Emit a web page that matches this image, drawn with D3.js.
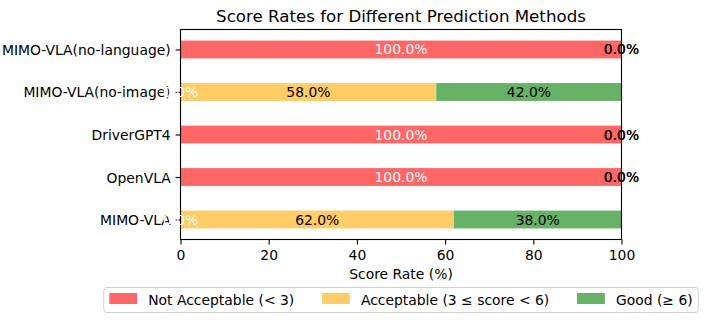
<!DOCTYPE html>
<html>
<head>
<meta charset="utf-8">
<script src="https://cdn.jsdelivr.net/npm/d3@7"></script>
<style>
  html, body { margin: 0; padding: 0; background: #fff; }
  svg { display: block; font-family: "DejaVu Sans", sans-serif; }
</style>
</head>
<body>
<div id="chart"></div>
<script>
// ---- Data (bottom to top, as in the original) ----
const categories = ["MIMO-VLA", "OpenVLA", "DriverGPT4", "MIMO-VLA(no-image)", "MIMO-VLA(no-language)"];
const notAcceptable = [0, 100, 100, 0, 100];
const acceptable = [62, 0, 0, 58, 0];
const good = [38, 0, 0, 42, 0];
const seriesNames = ["Not Acceptable (< 3)", "Acceptable (3 \u2264 score < 6)", "Good (\u2265 6)"];
const seriesColors = ["#ff6666", "#ffcc66", "#66b266"];
const labelColors = ["#ffffff", "#000000", "#000000"];
const xTicks = [0, 20, 40, 60, 80, 100];
const titleText = "Score Rates for Different Prediction Methods";
const xLabelText = "Score Rate (%)";

(function () {
const W = 706, H = 324;
const pL = 180.5, pR = 621.5, pT = 29.5, pB = 239.5;
const fs = 13.9;

const svg = d3.select("#chart").append("svg").attr("width", W).attr("height", H);

const x = d3.scaleLinear().domain([0, 100]).range([pL, pR]);
const y = d3.scaleLinear().domain([-0.47, categories.length - 1 + 0.47]).range([pB, pT]);
const barH = (y(0) - y(0.42));

const seriesVals = [notAcceptable, acceptable, good];
const stacked = categories.map((c, i) => {
  let acc = 0;
  return seriesVals.map((s, k) => {
    const seg = { cat: i, k, x0: acc, x1: acc + s[i], v: s[i] };
    acc += s[i];
    return seg;
  });
});

// bars
const gBars = svg.append("g");
stacked.forEach(row => {
  row.forEach(seg => {
    gBars.append("rect")
      .attr("x", x(seg.x0))
      .attr("y", y(seg.cat) - barH / 2)
      .attr("width", Math.max(0, x(seg.x1) - x(seg.x0)))
      .attr("height", barH)
      .attr("fill", seriesColors[seg.k]);
  });
});

// spines
const gAx = svg.append("g").attr("stroke", "#000").attr("stroke-width", 1.1).attr("fill", "none");
gAx.append("rect").attr("x", pL).attr("y", pT).attr("width", pR - pL).attr("height", pB - pT);

// x axis ticks
const xAxis = d3.axisBottom(x).tickValues(xTicks).tickSize(4.9).tickPadding(4.9).tickFormat(d3.format("d"));
const gx = svg.append("g").attr("transform", `translate(0,${pB})`).call(xAxis);
gx.select(".domain").remove();
gx.selectAll(".tick line").attr("stroke", "#000").attr("stroke-width", 1.1);
gx.selectAll(".tick text").attr("font-size", fs).attr("font-family", "DejaVu Sans").attr("fill", "#000")
  .attr("dy", null).attr("y", 20.5).attr("dominant-baseline", "alphabetic");

// y axis ticks
const yAxis = d3.axisLeft(y).tickValues(d3.range(categories.length)).tickSize(4.9).tickPadding(4.9)
  .tickFormat(i => categories[i]);
const gy = svg.append("g").attr("transform", `translate(${pL},0)`).call(yAxis);
gy.select(".domain").remove();
gy.selectAll(".tick line").attr("stroke", "#000").attr("stroke-width", 1.1);
gy.selectAll(".tick text").attr("font-size", fs).attr("font-family", "DejaVu Sans").attr("fill", "#000")
  .attr("dy", null).attr("y", 5).attr("dominant-baseline", "alphabetic");

// bar labels
const gLab = svg.append("g").attr("font-size", fs).attr("text-anchor", "middle");
stacked.forEach(row => {
  row.forEach(seg => {
    gLab.append("text")
      .attr("x", x((seg.x0 + seg.x1) / 2))
      .attr("y", y(seg.cat) + 5)
      .attr("fill", labelColors[seg.k])
      .text(seg.v.toFixed(1) + "%");
  });
});

// title
svg.append("text").attr("x", (pL + pR) / 2).attr("y", 22)
  .attr("text-anchor", "middle").attr("font-size", 16.67).attr("fill", "#000").text(titleText);

// x label
svg.append("text").attr("x", (pL + pR) / 2).attr("y", 279)
  .attr("text-anchor", "middle").attr("font-size", fs).attr("fill", "#000").text(xLabelText);

// legend
const em = fs;
const gLeg = svg.append("g");
const box = gLeg.append("rect").attr("rx", 3).attr("ry", 3)
  .attr("fill", "#fff").attr("fill-opacity", 0.8).attr("stroke", "#d0d0d0").attr("stroke-width", 1);
let cx = 0;
const items = [];
seriesNames.forEach((name, k) => {
  const g = gLeg.append("g");
  g.append("rect").attr("x", cx).attr("y", 293).attr("width", 2 * em).attr("height", 11)
    .attr("fill", seriesColors[k]);
  const t = g.append("text").attr("x", cx + 2 * em + 0.8 * em).attr("y", 305)
    .attr("font-size", fs).attr("fill", "#000").text(name);
  const tw = t.node().getComputedTextLength();
  cx += 2 * em + 0.8 * em + tw + 2 * em;
  items.push(g);
});
const contentW = cx - 2 * em;
const inset = 0.4 * em;
const totalW = contentW + 2 * inset;
const legLeft = (pL + pR) / 2 - totalW / 2;
items.forEach(g => g.attr("transform", `translate(${legLeft + inset},0)`));
box.attr("x", legLeft).attr("y", 287.5).attr("width", totalW).attr("height", 25);
})();
</script>
</body>
</html>
